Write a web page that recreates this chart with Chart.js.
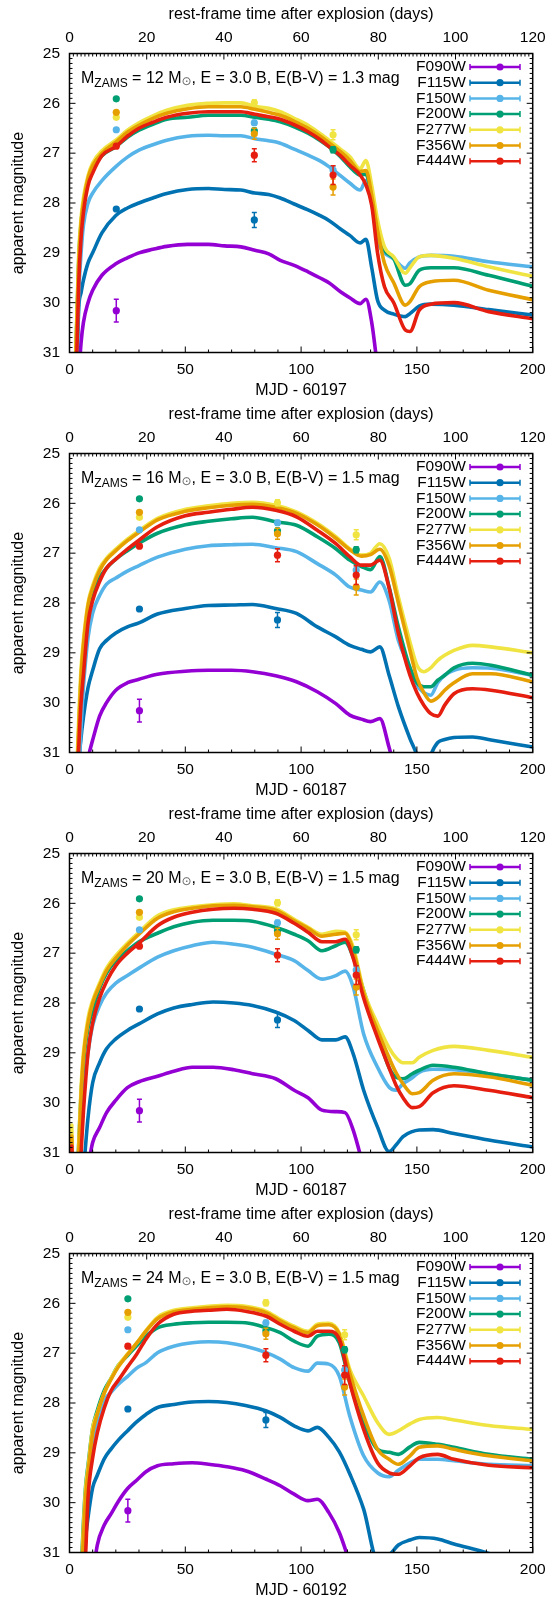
<!DOCTYPE html>
<html>
<head>
<meta charset="utf-8">
<title>model light curves</title>
<script src="https://cdn.jsdelivr.net/npm/chart.js@4.4.1/dist/chart.umd.min.js"></script>
<style>
  body { margin: 0; background: #fff; }
  canvas { display: block; }
</style>
</head>
<body>
<canvas id="lc12" width="549" height="400"></canvas>
<canvas id="lc16" width="549" height="400"></canvas>
<canvas id="lc20" width="549" height="400"></canvas>
<canvas id="lc24" width="549" height="400"></canvas>
<script>
var filters = ['F090W', 'F115W', 'F150W', 'F200W', 'F277W', 'F356W', 'F444W'];
var colors = ['#9400d3', '#0072b2', '#56b4e9', '#009e73', '#f0e442', '#e69f00', '#e51e10'];

// observed epochs (MJD) and magnitudes, one value per epoch
var obsMJD = [60217.2, 60276.8, 60310.8];
var obsF090W = [30.16, null, null];
var obsF115W = [28.12, 28.34, null];
var obsF150W = [26.53, 26.39, 27.34];
var obsF200W = [25.91, 26.55, 26.93];
var obsF277W = [26.28, 25.99, 26.63];
var obsF356W = [26.18, 26.61, 27.68];
var obsF444W = [26.86, 27.04, 27.44];
var errF090W = [0.23, 0, 0];
var errF115W = [0.03, 0.15, 0];
var errF150W = [0.03, 0.05, 0.08];
var errF200W = [0.02, 0.05, 0.06];
var errF277W = [0.02, 0.06, 0.1];
var errF356W = [0.03, 0.11, 0.16];
var errF444W = [0.04, 0.13, 0.19];

// model light curves, 12 Msun (MJD - 60197)
var days1 = [2, 3, 4, 5, 6, 8, 10, 14, 20, 25, 30, 36, 42, 51, 60, 67, 74, 80, 86, 91, 97, 103, 108, 112, 117, 121, 125.5, 128, 130.5, 133, 136, 140, 145, 147, 151, 156, 166, 181, 200];
var p1F090W = [null, null, 31.5, 30.8, 30.4, 30.0, 29.75, 29.45, 29.22, 29.1, 29.0, 28.93, 28.87, 28.83, 28.83, 28.86, 28.88, 28.95, 29.02, 29.15, 29.25, 29.38, 29.5, 29.6, 29.78, 29.9, 30.02, 29.93, 30.4, 31.3, null, null, null, null, null, null, null, null, null];
var p1F115W = [32, 31.5, 30.1, 29.8, 29.55, 29.2, 29.0, 28.6, 28.25, 28.1, 28.0, 27.9, 27.81, 27.73, 27.71, 27.73, 27.74, 27.8, 27.83, 27.9, 28.02, 28.14, 28.25, 28.35, 28.52, 28.65, 28.8, 28.73, 29.3, 29.95, 30.15, 30.23, 30.28, 30.22, 30.07, 30.03, 30.05, 30.14, 30.25];
var p1F150W = [32, 31.2, 29.8, 29.0, 28.45, 28.0, 27.8, 27.55, 27.27, 27.08, 26.94, 26.83, 26.74, 26.66, 26.64, 26.65, 26.65, 26.71, 26.75, 26.8, 26.92, 27.04, 27.15, 27.27, 27.45, 27.6, 27.74, 27.55, 28.0, 28.75, 29.0, 29.12, 29.31, 29.2, 29.08, 29.05, 29.07, 29.18, 29.28];
var p1F200W = [32, 30.6, 29.1, 28.4, 28.0, 27.55, 27.3, 27.05, 26.87, 26.68, 26.54, 26.42, 26.32, 26.28, 26.24, 26.24, 26.24, 26.28, 26.32, 26.37, 26.47, 26.6, 26.74, 26.87, 27.07, 27.27, 27.44, 27.42, 27.9, 28.6, 28.95, 29.12, 29.65, 29.62, 29.35, 29.3, 29.3, 29.45, 29.67];
var p1F277W = [32, 30.5, 29.0, 28.3, 27.9, 27.45, 27.2, 26.95, 26.74, 26.54, 26.39, 26.25, 26.14, 26.04, 26.0, 25.99, 25.99, 26.06, 26.1, 26.17, 26.3, 26.44, 26.6, 26.74, 26.92, 27.07, 27.31, 27.15, 27.65, 28.34, 28.88, 29.08, 29.41, 29.3, 29.08, 29.05, 29.11, 29.28, 29.47];
var p1F356W = [32, 30.7, 29.2, 28.4, 28.0, 27.5, 27.25, 27.0, 26.78, 26.58, 26.44, 26.3, 26.2, 26.11, 26.07, 26.07, 26.07, 26.12, 26.18, 26.24, 26.36, 26.5, 26.65, 26.79, 26.97, 27.14, 27.37, 27.35, 27.85, 28.55, 29.21, 29.6, 30.05, 29.98, 29.68, 29.58, 29.55, 29.75, 29.94];
var p1F444W = [32, 31.3, 29.6, 28.7, 28.2, 27.65, 27.4, 27.05, 26.87, 26.66, 26.5, 26.38, 26.28, 26.2, 26.17, 26.17, 26.17, 26.22, 26.27, 26.32, 26.43, 26.57, 26.72, 26.87, 27.05, 27.24, 27.44, 27.64, 28.05, 29.0, 29.68, 30.0, 30.55, 30.58, 30.15, 30.03, 30.0, 30.18, 30.32];

// 16 Msun (MJD - 60187)
var days2 = [3, 4, 5, 6, 8, 10, 13, 16, 20, 25, 30, 38, 50, 60, 70, 79, 89, 98, 107, 115, 121, 126, 130, 134, 138, 142, 147, 150, 153, 156, 159, 162, 166, 174, 182, 200];
var p2F090W = [null, null, null, null, 31.1, 30.75, 30.27, 30.0, 29.75, 29.6, 29.53, 29.43, 29.37, 29.35, 29.35, 29.38, 29.46, 29.58, 29.78, 30.02, 30.25, 30.33, 30.38, 30.32, 30.9, 31.6, null, null, null, null, null, null, null, null, null, null];
var p2F115W = [33, 31.3, 30.7, 30.3, 29.7, 29.35, 28.92, 28.75, 28.6, 28.48, 28.4, 28.22, 28.11, 28.05, 28.04, 28.03, 28.11, 28.21, 28.48, 28.68, 28.85, 28.93, 28.98, 28.88, 29.45, 30.08, 30.72, 31.05, 31.5, 31.05, 30.8, 30.74, 30.7, 30.69, 30.75, 30.89];
var p2F150W = [33, 31.5, 30.5, 29.7, 28.7, 28.2, 27.85, 27.62, 27.5, 27.36, 27.25, 27.08, 26.92, 26.85, 26.83, 26.82, 26.89, 26.97, 27.21, 27.44, 27.68, 27.74, 27.78, 27.58, 27.95, 28.75, 29.3, 29.65, 29.8, 29.85, 29.6, 29.45, 29.35, 29.3, 29.31, 29.45];
var p2F200W = [32, 30.6, 29.5, 29.0, 28.2, 27.85, 27.5, 27.3, 27.12, 26.95, 26.8, 26.6, 26.43, 26.36, 26.31, 26.28, 26.37, 26.44, 26.67, 26.91, 27.14, 27.27, 27.33, 27.07, 27.68, 28.48, 29.3, 29.6, 29.68, 29.68, 29.55, 29.45, 29.3, 29.21, 29.25, 29.45];
var p2F277W = [31.5, 30.3, 29.3, 28.75, 28.0, 27.65, 27.3, 27.1, 26.92, 26.72, 26.55, 26.3, 26.12, 26.05, 26.0, 25.98, 26.04, 26.17, 26.4, 26.67, 26.91, 27.04, 27.0, 26.81, 27.1, 27.88, 28.78, 29.25, 29.38, 29.3, 29.15, 29.05, 28.95, 28.85, 28.88, 29.0];
var p2F356W = [31.7, 30.5, 29.45, 28.85, 28.05, 27.7, 27.35, 27.13, 26.95, 26.75, 26.58, 26.33, 26.16, 26.09, 26.04, 26.02, 26.08, 26.2, 26.43, 26.7, 26.93, 27.06, 27.03, 26.92, 27.25, 28.0, 28.95, 29.5, 29.8, 29.97, 29.9, 29.75, 29.6, 29.42, 29.42, 29.58];
var p2F444W = [32, 30.9, 30.0, 29.45, 28.4, 27.95, 27.57, 27.3, 27.12, 26.92, 26.74, 26.47, 26.25, 26.18, 26.12, 26.08, 26.14, 26.27, 26.54, 26.81, 27.07, 27.24, 27.24, 27.14, 27.7, 28.61, 29.45, 29.8, 30.05, 30.22, 30.27, 30.05, 29.82, 29.72, 29.75, 29.9];

// 20 Msun (MJD - 60187)
var days3 = [1, 1.4, 3, 4, 5, 6, 8, 10, 13, 16, 20, 25, 30, 38, 45, 53, 62, 71, 79, 89, 97, 103, 109, 115, 119, 122.5, 127, 133, 138, 141, 144, 148, 151, 157, 166, 181, 200];
var p3F090W = [null, null, null, null, null, null, 31.3, 30.8, 30.5, 30.2, 29.95, 29.7, 29.58, 29.47, 29.37, 29.29, 29.29, 29.34, 29.42, 29.52, 29.75, 29.9, 30.15, 30.18, 30.2, 30.55, 31.3, null, null, null, null, null, null, null, null, null, null];
var p3F115W = [null, null, null, null, null, 31.4, 30.3, 29.6, 29.2, 28.92, 28.72, 28.55, 28.42, 28.22, 28.1, 28.03, 27.98, 28.0, 28.05, 28.18, 28.35, 28.55, 28.74, 28.74, 28.68, 29.02, 29.75, 30.49, 30.98, 30.85, 30.68, 30.58, 30.55, 30.54, 30.62, 30.75, 30.89];
var p3F150W = [null, null, null, 31.5, 30.5, 29.8, 29.0, 28.45, 28.05, 27.8, 27.6, 27.45, 27.3, 27.08, 26.95, 26.85, 26.78, 26.82, 26.88, 27.02, 27.15, 27.35, 27.52, 27.45, 27.36, 27.68, 28.62, 29.29, 29.69, 29.75, 29.62, 29.5, 29.39, 29.33, 29.34, 29.42, 29.55];
var p3F200W = [null, null, 31.8, 30.8, 29.8, 29.2, 28.5, 28.15, 27.7, 27.4, 27.15, 26.95, 26.77, 26.6, 26.47, 26.38, 26.34, 26.34, 26.36, 26.48, 26.62, 26.75, 26.95, 26.85, 26.78, 27.08, 27.75, 28.62, 29.3, 29.49, 29.52, 29.42, 29.35, 29.25, 29.29, 29.42, 29.55];
var p3F277W = [30.45, 31.5, 32, 30.8, 29.7, 29.0, 28.3, 27.95, 27.6, 27.3, 27.05, 26.8, 26.58, 26.25, 26.13, 26.07, 26.03, 26.01, 26.05, 26.11, 26.32, 26.48, 26.62, 26.56, 26.58, 26.88, 27.75, 28.42, 28.9, 29.1, 29.2, 29.2, 29.09, 28.95, 28.87, 28.95, 29.09];
var p3F356W = [30.67, 31.5, 32, 31.0, 29.85, 29.1, 28.4, 28.0, 27.65, 27.35, 27.1, 26.84, 26.62, 26.3, 26.17, 26.1, 26.05, 26.04, 26.07, 26.14, 26.35, 26.5, 26.66, 26.62, 26.6, 26.95, 27.8, 28.55, 29.1, 29.4, 29.62, 29.82, 29.8, 29.55, 29.42, 29.48, 29.65];
var p3F444W = [30.87, 31.5, 32, 32, 31.0, 30.2, 29.0, 28.4, 27.9, 27.57, 27.25, 27.0, 26.8, 26.45, 26.28, 26.18, 26.12, 26.1, 26.12, 26.2, 26.4, 26.58, 26.77, 26.77, 26.72, 27.1, 27.9, 28.7, 29.3, 29.65, 29.9, 30.1, 30.08, 29.8, 29.66, 29.75, 29.9];

// 24 Msun (MJD - 60192)
var days4 = [4, 5, 6, 7, 8, 10, 12, 15, 18, 21, 25, 29, 33, 38, 45, 53, 60, 68, 76, 85, 91, 97, 103, 107, 112, 116.5, 121, 127, 133, 138, 142, 147, 151, 159, 166, 181, 200];
var p4F090W = [null, null, null, null, null, 31.5, 30.85, 30.45, 30.22, 29.98, 29.72, 29.55, 29.38, 29.26, 29.22, 29.2, 29.23, 29.28, 29.36, 29.53, 29.66, 29.83, 29.96, 29.93, 30.2, 30.6, 31.2, null, null, null, null, null, null, null, null, null, null];
var p4F115W = [null, 32, 31.4, 30.7, 30.3, 29.7, 29.45, 29.12, 28.92, 28.75, 28.56, 28.38, 28.23, 28.09, 28.03, 27.98, 27.97, 27.99, 28.05, 28.16, 28.29, 28.46, 28.56, 28.49, 28.69, 28.98, 29.42, 30.13, 31.15, 31.05, 30.85, 30.75, 30.7, 30.73, 30.83, 31.02, 31.4];
var p4F150W = [32, 31.5, 30.6, 29.9, 29.4, 28.75, 28.35, 27.95, 27.78, 27.63, 27.47, 27.3, 27.19, 26.99, 26.86, 26.79, 26.77, 26.79, 26.86, 26.99, 27.12, 27.29, 27.36, 27.2, 27.22, 27.46, 28.26, 29.06, 29.4, 29.48, 29.35, 29.2, 29.13, 29.13, 29.16, 29.23, 29.26];
var p4F200W = [32, 31.4, 30.4, 29.65, 29.25, 28.5, 28.15, 27.75, 27.5, 27.25, 27.05, 26.85, 26.66, 26.49, 26.42, 26.39, 26.38, 26.38, 26.39, 26.49, 26.59, 26.76, 26.86, 26.66, 26.62, 26.79, 27.59, 28.39, 28.93, 28.99, 29.03, 28.88, 28.79, 28.83, 28.89, 29.03, 29.13];
var p4F277W = [32, 31.5, 30.5, 29.7, 29.3, 28.5, 28.2, 27.8, 27.5, 27.25, 27.02, 26.8, 26.55, 26.28, 26.14, 26.09, 26.06, 26.04, 26.06, 26.16, 26.32, 26.46, 26.56, 26.42, 26.4, 26.59, 27.32, 27.86, 28.39, 28.63, 28.56, 28.42, 28.33, 28.29, 28.34, 28.45, 28.53];
var p4F356W = [32, 31.7, 30.7, 29.85, 29.4, 28.6, 28.22, 27.8, 27.52, 27.28, 27.03, 26.8, 26.56, 26.31, 26.17, 26.12, 26.09, 26.07, 26.09, 26.19, 26.35, 26.49, 26.59, 26.45, 26.43, 26.62, 27.4, 28.26, 28.93, 29.13, 29.23, 29.06, 28.89, 28.86, 28.93, 29.06, 29.16];
var p4F444W = [32, 32, 31.8, 31.0, 29.9, 29.1, 28.6, 28.1, 27.75, 27.55, 27.28, 27.02, 26.72, 26.42, 26.22, 26.16, 26.14, 26.12, 26.16, 26.26, 26.42, 26.56, 26.66, 26.56, 26.56, 26.72, 27.59, 28.53, 29.2, 29.4, 29.43, 29.26, 29.1, 29.03, 29.13, 29.25, 29.3];

var obsMags = [obsF090W, obsF115W, obsF150W, obsF200W, obsF277W, obsF356W, obsF444W];
var obsErrs = [errF090W, errF115W, errF150W, errF200W, errF277W, errF356W, errF444W];

var panels = [
  { id: 'lc12', mjd0: 60197, mass: 12, ebv: '1.3', days: days1, mags: [p1F090W, p1F115W, p1F150W, p1F200W, p1F277W, p1F356W, p1F444W] },
  { id: 'lc16', mjd0: 60187, mass: 16, ebv: '1.5', days: days2, mags: [p2F090W, p2F115W, p2F150W, p2F200W, p2F277W, p2F356W, p2F444W] },
  { id: 'lc20', mjd0: 60187, mass: 20, ebv: '1.5', days: days3, mags: [p3F090W, p3F115W, p3F150W, p3F200W, p3F277W, p3F356W, p3F444W] },
  { id: 'lc24', mjd0: 60192, mass: 24, ebv: '1.5', days: days4, mags: [p4F090W, p4F115W, p4F150W, p4F200W, p4F277W, p4F356W, p4F444W] }
];

var FONT = '"Liberation Sans", Arial, sans-serif';
Chart.defaults.font.family = FONT;
Chart.defaults.font.size = 15.5;
Chart.defaults.color = '#000';

// gnuplot style border with inward major/minor ticks
var frameTicks = {
  id: 'frameTicks',
  afterDatasetsDraw: function (chart) {
    var ctx = chart.ctx, a = chart.chartArea;
    var sx = chart.scales.x, sx2 = chart.scales.x2, sy = chart.scales.y;
    var v, p, len;
    ctx.save();
    ctx.strokeStyle = '#000';
    ctx.lineWidth = 1;
    ctx.beginPath();
    for (v = 0; v <= 200; v += 10) {
      p = sx.getPixelForValue(v);
      len = v % 50 === 0 ? 6 : 3;
      ctx.moveTo(p, a.bottom); ctx.lineTo(p, a.bottom - len);
    }
    for (v = 0; v <= 120; v += 1) {
      p = sx2.getPixelForValue(v);
      len = v % 20 === 0 ? 6 : 3;
      ctx.moveTo(p, a.top); ctx.lineTo(p, a.top + len);
    }
    for (v = 0; v <= 60; v++) {
      p = sy.getPixelForValue(25 + v / 10);
      len = v % 10 === 0 ? 6 : 3;
      ctx.moveTo(a.left, p); ctx.lineTo(a.left + len, p);
      ctx.moveTo(a.right, p); ctx.lineTo(a.right - len, p);
    }
    ctx.stroke();
    ctx.lineWidth = 1.5;
    ctx.strokeRect(a.left, a.top, a.right - a.left, a.bottom - a.top);
    ctx.restore();
  }
};

// vertical error bars with caps on the observed points
var errorBars = {
  id: 'errorBars',
  afterDatasetDraw: function (chart, args) {
    var ds = chart.data.datasets[args.index];
    if (!ds.errs) return;
    var ctx = chart.ctx, sy = chart.scales.y;
    ctx.save();
    ctx.strokeStyle = ds.backgroundColor;
    ctx.lineWidth = 1.5;
    args.meta.data.forEach(function (pt, k) {
      var m = ds.data[k].y, e = ds.errs[k];
      if (m === null || !e) return;
      var y1 = sy.getPixelForValue(m - e), y2 = sy.getPixelForValue(m + e);
      ctx.beginPath();
      ctx.moveTo(pt.x, y1); ctx.lineTo(pt.x, y2);
      ctx.moveTo(pt.x - 2.5, y1); ctx.lineTo(pt.x + 2.5, y1);
      ctx.moveTo(pt.x - 2.5, y2); ctx.lineTo(pt.x + 2.5, y2);
      ctx.stroke();
    });
    ctx.restore();
  }
};

// model label and key drawn inside the frame
var keyAndLabel = {
  id: 'keyAndLabel',
  afterDraw: function (chart) {
    var ctx = chart.ctx, a = chart.chartArea, p = chart.options.plugins.keyAndLabel;
    ctx.save();
    ctx.fillStyle = '#000';
    ctx.textBaseline = 'alphabetic';
    ctx.textAlign = 'left';
    var x = a.left + 11.5, y = a.top + 29;
    ctx.font = '16px ' + FONT;
    ctx.fillText('M', x, y); x += ctx.measureText('M').width;
    ctx.font = '12px ' + FONT;
    ctx.fillText('ZAMS', x, y + 4.5); x += ctx.measureText('ZAMS').width;
    ctx.font = '16px ' + FONT;
    var s = ' = ' + p.mass + ' M';
    ctx.fillText(s, x, y); x += ctx.measureText(s).width;
    ctx.font = '12px "DejaVu Sans", sans-serif';
    ctx.fillStyle = '#666';
    ctx.fillText('\u2299', x, y + 2); x += ctx.measureText('\u2299').width;
    ctx.fillStyle = '#000';
    ctx.font = '16px ' + FONT;
    ctx.fillText(', E = 3.0 B, E(B-V) = ' + p.ebv + ' mag', x, y);

    ctx.textAlign = 'right';
    ctx.textBaseline = 'middle';
    filters.forEach(function (f, i) {
      var ly = a.top + 13.5 + i * 15.7;
      ctx.fillStyle = '#000';
      ctx.font = '15.5px ' + FONT;
      ctx.fillText(f, 466, ly);
      ctx.strokeStyle = colors[i];
      ctx.lineWidth = 2.5;
      ctx.beginPath();
      ctx.moveTo(470, ly); ctx.lineTo(520, ly);
      ctx.stroke();
      ctx.lineWidth = 1.5;
      ctx.beginPath();
      ctx.moveTo(470, ly - 3); ctx.lineTo(470, ly + 3);
      ctx.moveTo(520, ly - 3); ctx.lineTo(520, ly + 3);
      ctx.stroke();
      ctx.fillStyle = colors[i];
      ctx.beginPath();
      ctx.arc(500, ly, 3.6, 0, 2 * Math.PI);
      ctx.fill();
    });
    ctx.restore();
  }
};

function makePanel(p) {
  var datasets = [];
  filters.forEach(function (f, i) {
    datasets.push({
      label: f + ' model',
      data: p.days.map(function (d, k) { return { x: d, y: p.mags[i][k] }; }),
      borderColor: colors[i],
      backgroundColor: colors[i],
      borderWidth: 3.6,
      borderJoinStyle: 'round',
      borderCapStyle: 'round',
      pointRadius: 0,
      cubicInterpolationMode: 'monotone',
      fill: false,
      clip: 0,
      order: 20 - i
    });
  });
  filters.forEach(function (f, i) {
    datasets.push({
      label: f,
      data: obsMJD.map(function (m, k) { return { x: m - p.mjd0, y: obsMags[i][k] }; }),
      errs: obsErrs[i],
      showLine: false,
      pointRadius: 3.6,
      pointHoverRadius: 3.6,
      pointBorderWidth: 0,
      pointBackgroundColor: colors[i],
      borderColor: colors[i],
      backgroundColor: colors[i],
      order: 10 - i
    });
  });

  new Chart(document.getElementById(p.id), {
    type: 'line',
    data: { datasets: datasets },
    options: {
      responsive: false,
      animation: false,
      events: [],
      layout: { padding: { right: 16.3 } },
      plugins: {
        legend: { display: false },
        tooltip: { enabled: false },
        keyAndLabel: { mass: p.mass, ebv: p.ebv }
      },
      scales: {
        x: {
          type: 'linear', position: 'bottom', min: 0, max: 200,
          ticks: { stepSize: 50, padding: 8, maxRotation: 0 },
          grid: { display: false, drawTicks: false },
          border: { display: false },
          title: { display: true, text: 'MJD - ' + p.mjd0, font: { size: 16 }, padding: { top: 0, bottom: 0 } },
          afterFit: function (s) { s.height = 47.5; s.paddingLeft = 0; s.paddingRight = 0; }
        },
        x2: {
          type: 'linear', position: 'top', min: 0, max: 120,
          ticks: { stepSize: 20, padding: 6.5, maxRotation: 0 },
          grid: { display: false, drawTicks: false },
          border: { display: false },
          title: { display: true, text: 'rest-frame time after explosion (days)', font: { size: 16 }, padding: { top: 4.5, bottom: 0 } },
          afterFit: function (s) { s.height = 53.5; s.paddingLeft = 0; s.paddingRight = 0; }
        },
        y: {
          type: 'linear', position: 'left', reverse: true, min: 25, max: 31,
          ticks: { stepSize: 1, padding: 9.5 },
          grid: { display: false, drawTicks: false },
          border: { display: false },
          title: { display: true, text: 'apparent magnitude', font: { size: 16 }, padding: { top: 9, bottom: 0 } },
          afterFit: function (s) { s.width = 69.5; s.paddingTop = 0; s.paddingBottom = 0; }
        }
      }
    },
    plugins: [frameTicks, errorBars, keyAndLabel]
  });
}

panels.forEach(makePanel);
</script>
</body>
</html>
